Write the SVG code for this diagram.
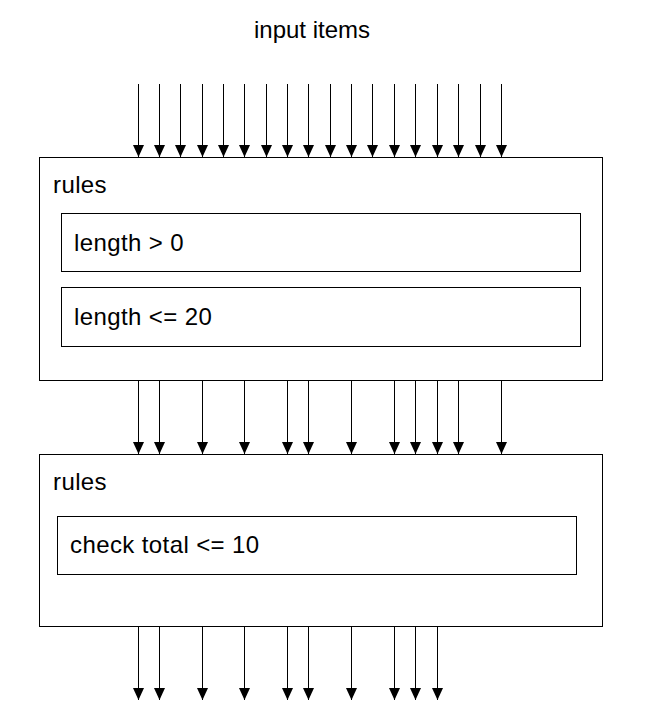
<svg xmlns="http://www.w3.org/2000/svg" width="648" height="728" viewBox="0 0 648 728">
<style>
.box{fill:#fff;stroke:#000;stroke-width:1}
.t{font-family:"Liberation Sans",Arial,sans-serif;font-size:24px;fill:#000;letter-spacing:0.4px}
.c line{stroke:#000;stroke-width:1;marker-end:url(#ah)}
</style>
<defs>
<marker id="ah" markerUnits="userSpaceOnUse" markerWidth="12" markerHeight="11" refX="12" refY="5.5" orient="auto">
<path d="M0,0 L12,5.5 L0,11 z" fill="#000"/>
</marker>
</defs>
<rect width="648" height="728" fill="#fff"/>
<text class="t" x="312" y="38" text-anchor="middle" style="letter-spacing:0">input items</text>
<g id="rules1">
<rect class="box" x="39.5" y="157.5" width="563" height="223"/>
<text class="t" x="53" y="193">rules</text>
<g id="rule-length-gt-0">
<rect class="box" x="61.5" y="213.5" width="519" height="58"/>
<text class="t" x="74" y="251">length &gt; 0</text>
</g>
<g id="rule-length-le-20">
<rect class="box" x="61.5" y="287.5" width="519" height="59"/>
<text class="t" x="74" y="325">length &lt;= 20</text>
</g>
</g>
<g id="rules2">
<rect class="box" x="39.5" y="454.5" width="563" height="172"/>
<text class="t" x="53" y="490">rules</text>
<g id="rule-check-total">
<rect class="box" x="57.5" y="516.5" width="519" height="58"/>
<text class="t" x="70" y="553">check total &lt;= 10</text>
</g>
</g>
<g id="connectors" class="c">
<line x1="138.5" y1="84" x2="138.5" y2="157"/>
<line x1="159.5" y1="84" x2="159.5" y2="157"/>
<line x1="180.5" y1="84" x2="180.5" y2="157"/>
<line x1="202.5" y1="84" x2="202.5" y2="157"/>
<line x1="223.5" y1="84" x2="223.5" y2="157"/>
<line x1="244.5" y1="84" x2="244.5" y2="157"/>
<line x1="266.5" y1="84" x2="266.5" y2="157"/>
<line x1="287.5" y1="84" x2="287.5" y2="157"/>
<line x1="308.5" y1="84" x2="308.5" y2="157"/>
<line x1="330.5" y1="84" x2="330.5" y2="157"/>
<line x1="351.5" y1="84" x2="351.5" y2="157"/>
<line x1="372.5" y1="84" x2="372.5" y2="157"/>
<line x1="394.5" y1="84" x2="394.5" y2="157"/>
<line x1="415.5" y1="84" x2="415.5" y2="157"/>
<line x1="437.5" y1="84" x2="437.5" y2="157"/>
<line x1="458.5" y1="84" x2="458.5" y2="157"/>
<line x1="480.5" y1="84" x2="480.5" y2="157"/>
<line x1="501.5" y1="84" x2="501.5" y2="157"/>
<line x1="138.5" y1="381" x2="138.5" y2="454"/>
<line x1="159.5" y1="381" x2="159.5" y2="454"/>
<line x1="202.5" y1="381" x2="202.5" y2="454"/>
<line x1="244.5" y1="381" x2="244.5" y2="454"/>
<line x1="287.5" y1="381" x2="287.5" y2="454"/>
<line x1="308.5" y1="381" x2="308.5" y2="454"/>
<line x1="351.5" y1="381" x2="351.5" y2="454"/>
<line x1="394.5" y1="381" x2="394.5" y2="454"/>
<line x1="415.5" y1="381" x2="415.5" y2="454"/>
<line x1="437.5" y1="381" x2="437.5" y2="454"/>
<line x1="458.5" y1="381" x2="458.5" y2="454"/>
<line x1="501.5" y1="381" x2="501.5" y2="454"/>
<line x1="138.5" y1="627" x2="138.5" y2="700"/>
<line x1="159.5" y1="627" x2="159.5" y2="700"/>
<line x1="202.5" y1="627" x2="202.5" y2="700"/>
<line x1="244.5" y1="627" x2="244.5" y2="700"/>
<line x1="287.5" y1="627" x2="287.5" y2="700"/>
<line x1="308.5" y1="627" x2="308.5" y2="700"/>
<line x1="351.5" y1="627" x2="351.5" y2="700"/>
<line x1="394.5" y1="627" x2="394.5" y2="700"/>
<line x1="415.5" y1="627" x2="415.5" y2="700"/>
<line x1="437.5" y1="627" x2="437.5" y2="700"/>
</g>
</svg>
